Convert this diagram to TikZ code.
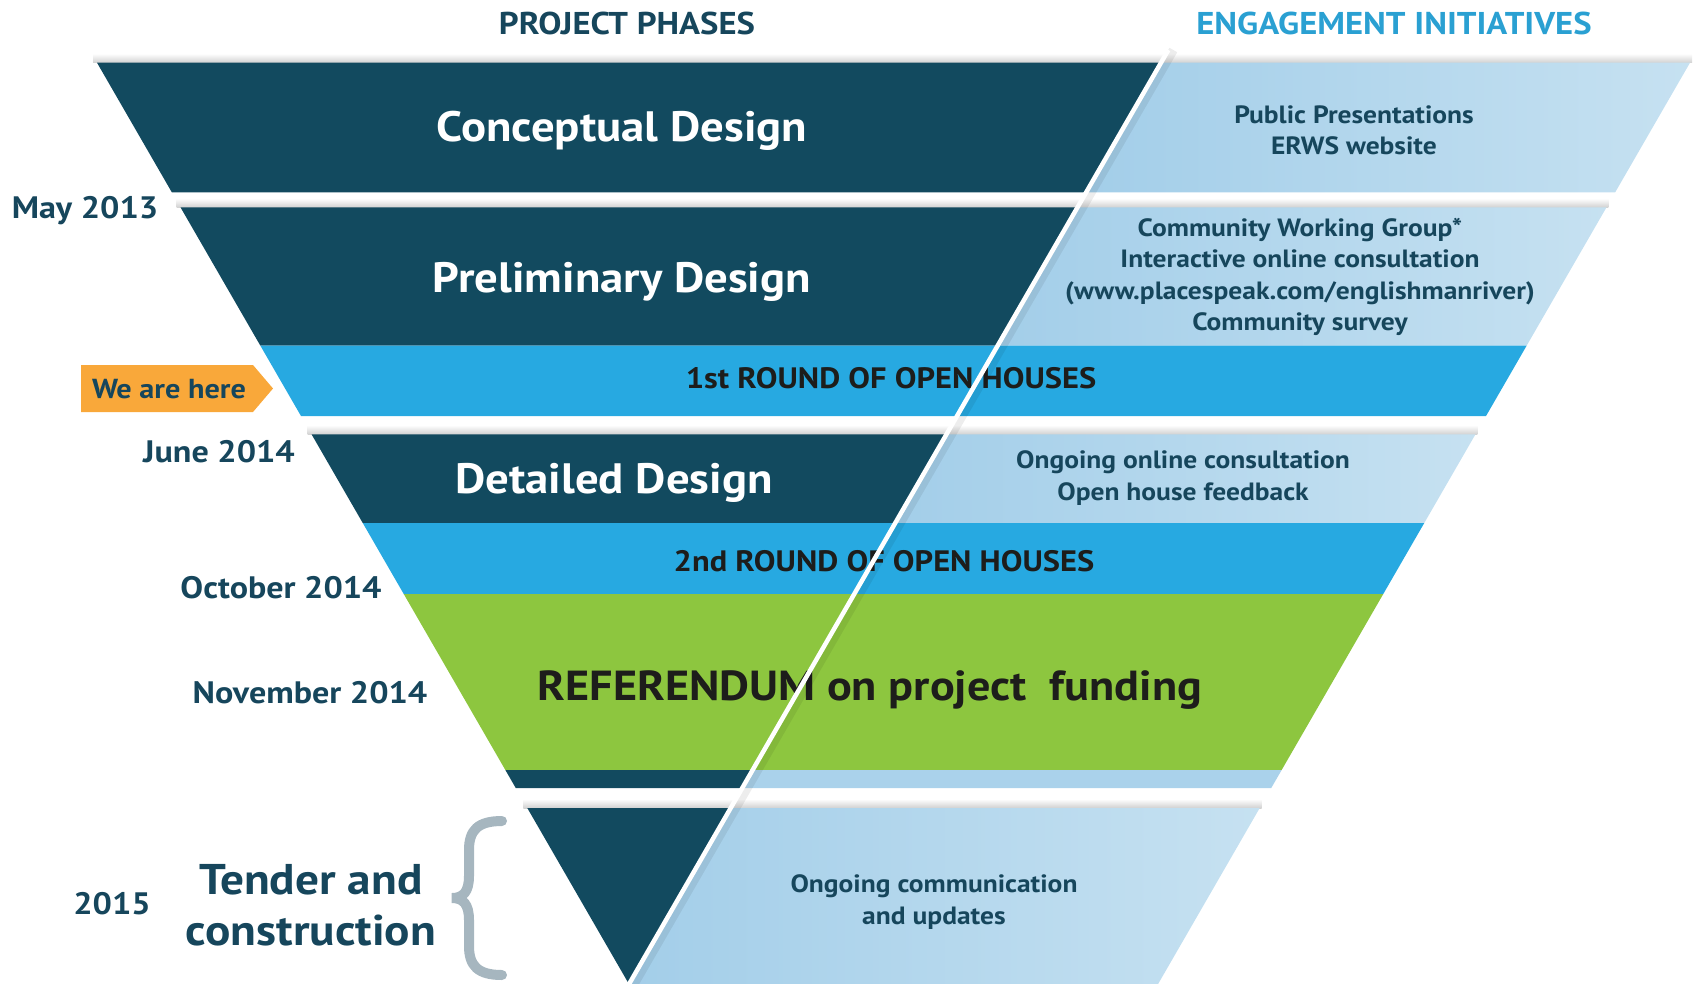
\documentclass[tikz,border=0pt]{standalone}
\usepackage{fontspec}
\setmainfont[FakeStretch=1.1]{PT Sans}
\usetikzlibrary{calc}

\definecolor{phase}{HTML}{124A5F}
\definecolor{engL}{HTML}{A3CEE9}
\definecolor{engR}{HTML}{C6E1F1}
\definecolor{openhouse}{HTML}{27A9E1}
\definecolor{vote}{HTML}{8DC63F}
\definecolor{marker}{HTML}{F9A83A}
\definecolor{datecol}{HTML}{16465C}
\definecolor{headblue}{HTML}{2AA0D2}
\definecolor{ink}{HTML}{1D1D1B}
\definecolor{bracecol}{HTML}{A6B6BF}

% left phase part and right engagement part of one band
\newcommand\phaseband[2]{%
  \fill[phase] ({xl(#1)},#1) -- ({xd(#1)},#1) -- ({xd(#2)},#2) -- ({xl(#2)},#2) -- cycle;
  \shade[left color=engL, right color=engR] ({xd(#1)},#1) -- ({xr(#1)},#1) -- ({xr(#2)},#2) -- ({xd(#2)},#2) -- cycle;}
% band of one colour across both columns
\newcommand\fullband[3]{%
  \fill[#3] ({xl(#1)},#1) -- ({xr(#1)},#1) -- ({xr(#2)},#2) -- ({xl(#2)},#2) -- cycle;}
% soft shadow above a band top
\newcommand\topshadow[1]{%
  \shade[top color=white, bottom color=black!18] ({xl(#1)-4},#1-9) rectangle ({xr(#1)+2},#1);}

\begin{document}
\begin{tikzpicture}[x=1pt,y=-1pt,
  declare function={xl(\t)=97+0.57735*(\t-62.7); xd(\t)=1161-0.57735*(\t-62.7); xr(\t)=1690-0.57735*(\t-62.7);},
  bigwhite/.style={text=white, font=\fontsize{42.5}{46}\selectfont\bfseries, inner sep=0pt},
  roundtxt/.style={text=ink, font=\fontsize{29.5}{32}\selectfont\bfseries, inner sep=0pt},
  engtxt/.style={text=datecol, font=\fontsize{25}{31.3}\selectfont\bfseries, align=center, inner sep=0pt},
  datetxt/.style={text=datecol, font=\fontsize{31}{33}\selectfont\bfseries, inner sep=0pt},
  headtxt/.style={font=\fontsize{31.5}{34}\selectfont\bfseries, inner sep=0pt}]
\useasboundingbox (0,0) rectangle (1694,983);

% headers
\node[headtxt, text=datecol] (hphase) at (627,23) {PROJECT PHASES};
\node[headtxt, text=headblue] (hengage) at (1394,23) {ENGAGEMENT INITIATIVES};

% shadows under the white gaps
\topshadow{62.7}
\topshadow{207.4}
\topshadow{434.3}
\topshadow{808}

% bands, top to bottom
\phaseband{62.7}{192.3}
\phaseband{207.4}{345.7}
\fullband{345.7}{416}{openhouse}
\phaseband{434.3}{523}
\fullband{523}{594}{openhouse}
\fullband{594}{770}{vote}
\fill[phase] ({xl(770)},770) -- ({xd(770)},770) -- ({xd(788)},788) -- ({xl(788)},788) -- cycle;
\fill[engL!80!engR] ({xd(770)},770) -- ({xr(770)},770) -- ({xr(788)},788) -- ({xd(788)},788) -- cycle;
\phaseband{808}{984}

% band texts
\node[bigwhite] (conc) at (622,131) {Conceptual Design};
\node[bigwhite] (prelim) at (622,282) {Preliminary Design};
\node[bigwhite] (detail) at (614,483) {Detailed Design};
\node[roundtxt] (open1) at (891,378) {1st ROUND OF OPEN HOUSES};
\node[roundtxt] (open2) at (884,561) {2nd ROUND OF OPEN HOUSES};
\node[text=ink, font=\fontsize{42}{46}\selectfont\bfseries, inner sep=0pt] (refer) at (870,690) {REFERENDUM on project\ \ funding};

% divider between phases and engagement
\draw[line width=9pt, black, opacity=0.07] ({xd(50)+5},50) -- ({xd(990)+5},990);
\draw[line width=4.5pt, white] ({xd(50)},50) -- ({xd(990)},990);

% engagement texts
\node[engtxt] (eng1) at (1354,130) {Public Presentations\\ERWS website};
\node[engtxt] (eng2) at (1300,277) {Community Working Group*\\Interactive online consultation\\(www.placespeak.com/englishmanriver)\\Community survey};
\node[engtxt] (eng4) at (1183,478) {Ongoing online consultation\\Open house feedback};
\node[engtxt] (eng8) at (934,902) {Ongoing communication\\and updates};

% dates
\node[datetxt] (may) at (85,211) {May 2013};
\node[datetxt] (june) at (219,452) {June 2014};
\node[datetxt] (oct) at (281,588) {October 2014};
\node[datetxt] (nov) at (310,693) {November 2014};
\node[datetxt] (y2015) at (112,904) {2015};
\node[text=datecol, font=\fontsize{43}{51}\selectfont\bfseries, align=center, inner sep=0pt] (tender) at (311,905) {Tender and\\construction};

% current position marker
\fill[marker] (81,365) -- (253,365) -- (273,388.5) -- (253,412) -- (81,412) -- cycle;
\node[text=datecol, font=\fontsize{27.5}{30}\selectfont\bfseries, inner sep=0pt] (here) at (169,389) {We are here};

% brace
\draw[bracecol, line width=10pt, line cap=round]
  (502,821) .. controls (478,821) and (469,830) .. (469,850) -- (469,876)
  .. controls (469,892) and (463,898) .. (452,898)
  .. controls (463,898) and (469,904) .. (469,920) -- (469,946)
  .. controls (469,966) and (478,975) .. (502,975);
\end{tikzpicture}
\end{document}
